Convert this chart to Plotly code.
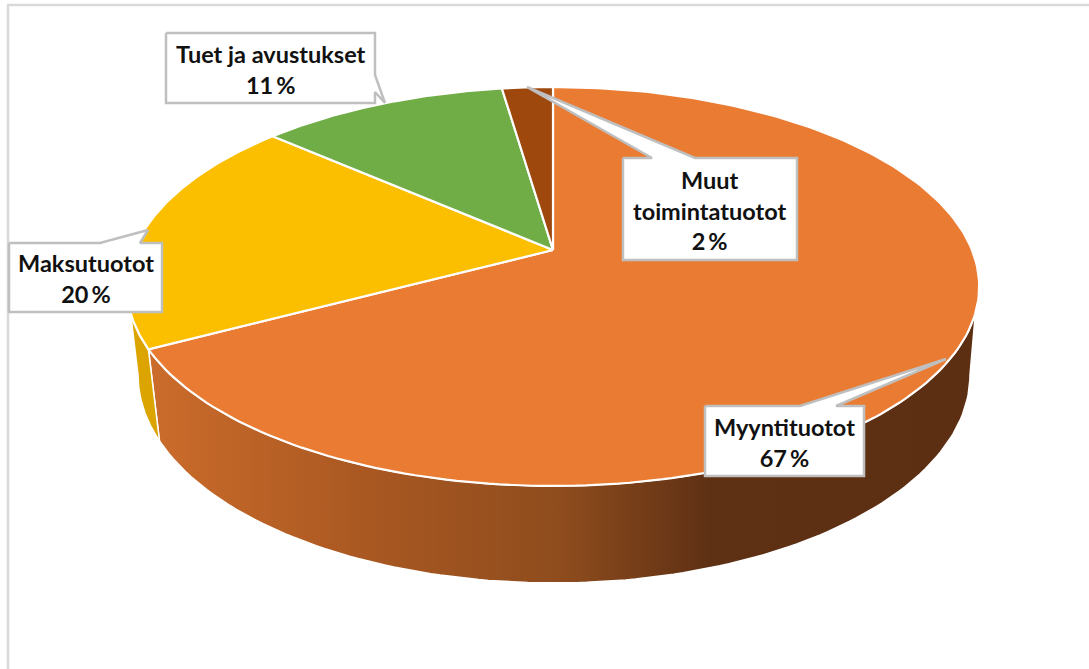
import numpy as np
import plotly.graph_objects as go

# --- data ---
categories = ["Myyntituotot", "Maksutuotot", "Tuet ja avustukset", "Muut toimintatuotot"]
values = [67.2, 19.3, 11.2, 2.3]
label_lines = [["Myyntituotot", "67\u2009%"], ["Maksutuotot", "20\u2009%"],
               ["Tuet ja avustukset", "11\u2009%"], ["Muut", "toimintatuotot", "2\u2009%"]]

# --- styling ---
top_colors = ["#EA7B32", "#FBBF00", "#70AD47", "#9E480E"]
side_yellow = "#DCA400"
side_scale = [[0, "#CB6C2B"], [0.25, "#AB5922"], [0.5, "#8E4C1D"], [0.68, "#5E3014"], [1, "#5C2F13"]]
frame = "#D9D9D9"
callout_line = "#BFBFBF"

# --- perspective pie projection (pixel-space axes) ---
CX, CY, K, A, B = 553.0, 250.0, 0.183, 192.8, 419.0
LOW_CX, LOW_CY, LOW_RX, LOW_RY = 554.0, 375.0, 416.0, 208.0


def rim(deg):
    t = np.radians(deg)
    u, v = np.sin(t), np.cos(t)
    w = 1 + K * v
    return CX + B * u / w, CY - A * v / w


def lower(phi_deg):
    p = np.radians(phi_deg)
    return LOW_CX + LOW_RX * np.cos(p), LOW_CY + LOW_RY * np.sin(p)


def wall(rim_from, rim_to, low_from, low_to):
    xt, yt = rim(np.linspace(rim_from, rim_to, 120))
    xl, yl = lower(np.linspace(low_from, low_to, 120))
    return np.r_[xt, xl, xt[0]], np.r_[yt, yl, yt[0]]


fig = go.Figure()

edges = np.cumsum([0] + values) / sum(values) * 360

# side walls
wx, wy = wall(108, edges[1], 161.5, 0)
fig.add_trace(go.Scatter(x=wx, y=wy, mode="lines", fill="toself",
                         line=dict(color="white", width=1.5),
                         fillgradient=dict(type="horizontal", colorscale=side_scale),
                         hoverinfo="skip", showlegend=False))
wx, wy = wall(edges[1], 252, 180, 161.5)
fig.add_trace(go.Scatter(x=wx, y=wy, mode="lines", fill="toself", fillcolor=side_yellow,
                         line=dict(color="white", width=1.5),
                         hoverinfo="skip", showlegend=False))

# top face
for i, name in enumerate(categories):
    xr, yr = rim(np.linspace(edges[i], edges[i + 1], 200))
    fig.add_trace(go.Scatter(x=np.r_[CX, xr, CX], y=np.r_[CY, yr, CY], mode="lines", fill="toself",
                             fillcolor=top_colors[i], line=dict(color="white", width=2.2),
                             name=name, hoverinfo="name", showlegend=False))

# callouts: box (left, top, right, bottom) and pointer
boxes = [(705, 406, 864, 476), (9, 243, 162, 312), (166, 33, 375, 103), (623, 158, 797, 260)]
pointers = [
    [(800, 406), (946, 359), (836, 406)],
    [(100, 243), (148, 230), (140, 243)],
    None,
    [(652, 158), (527, 87), (695, 158)],
]
for i, (l, t, r, b) in enumerate(boxes):
    if i == 2:
        pts = [(l, t), (r, t), (r, 75), (385, 103), (r, 92), (r, b), (l, b), (l, t)]
    else:
        p = pointers[i]
        pts = [(l, t), p[0], p[1], p[2], (r, t), (r, b), (l, b), (l, t)]
    fig.add_trace(go.Scatter(x=[q[0] for q in pts], y=[q[1] for q in pts], mode="lines", fill="toself",
                             fillcolor="white", line=dict(color=callout_line, width=2.5),
                             hoverinfo="skip", showlegend=False))
    fig.add_annotation(x=(l + r) / 2, y=(t + b) / 2 + 1, text="<br>".join(label_lines[i]), showarrow=False,
                       font=dict(family="Lato, Carlito, sans-serif", size=23.5, color="#111111", weight="bold"),
                       align="center", xanchor="center", yanchor="middle")

fig.update_layout(
    width=1089, height=669, autosize=False,
    margin=dict(l=0, r=0, t=0, b=0),
    paper_bgcolor="white", plot_bgcolor="white",
    xaxis=dict(range=[0, 1089], visible=False, fixedrange=True),
    yaxis=dict(range=[669, 0], visible=False, fixedrange=True),
    showlegend=False,
    shapes=[
        dict(type="line", x0=8, x1=8, y0=5, y1=669, line=dict(color=frame, width=2.5), layer="below"),
        dict(type="line", x0=7, x1=1089, y0=5, y1=5, line=dict(color=frame, width=2.5), layer="below"),
    ],
)

fig.write_html("out.html", config={"displayModeBar": False},
               post_script="document.body.style.margin='0';document.body.style.overflow='hidden';")
